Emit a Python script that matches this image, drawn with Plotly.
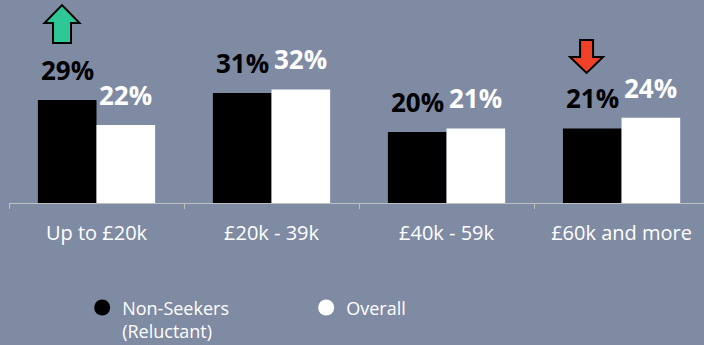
import plotly.graph_objects as go

categories = ["Up to £20k", "£20k - 39k", "£40k - 59k", "£60k and more"]
non_seekers = [29, 31, 20, 21]
overall = [22, 32, 21, 24]
series_names = ["Non-Seekers<br>(Reluctant)", "Overall"]

BG = "#7F8AA3"
FONT = "Open Sans"

W, H = 704, 345
ML, MR, MT, MB = 9, 0, 0, 142
X_RANGE = [-0.5, 3.471]
Y_RANGE = [0, 57.2]
PX_X = (W - ML - MR) / (X_RANGE[1] - X_RANGE[0])   # pixels per category
PX_Y = (H - MT - MB) / (Y_RANGE[1] - Y_RANGE[0])   # pixels per percentage point

fig = go.Figure()
fig.add_trace(go.Bar(x=categories, y=non_seekers, marker=dict(color="black", line_width=0),
                     showlegend=False, hoverinfo="skip"))
fig.add_trace(go.Bar(x=categories, y=overall, marker=dict(color="white", line_width=0),
                     showlegend=False, hoverinfo="skip"))

# legend entries drawn as circles
for name, col in zip(series_names, ["black", "white"]):
    fig.add_trace(go.Scatter(x=[None], y=[None], mode="markers", name=name,
                             marker=dict(symbol="circle", size=17, color=col, line_width=0)))

# value labels above each bar
annotations = []
for i, (a, b) in enumerate(zip(non_seekers, overall)):
    annotations.append(dict(x=i, y=a, xref="x", yref="y", text=f"{a}%", showarrow=False,
                            xshift=-29, yshift=10, yanchor="bottom",
                            font=dict(family=FONT, size=26, color="black", weight="bold")))
    annotations.append(dict(x=i, y=b, xref="x", yref="y", text=f"{b}%", showarrow=False,
                            xshift=29, yshift=10, yanchor="bottom",
                            font=dict(family=FONT, size=26, color="white", weight="bold")))


def arrow_path(cat, value, dx, pts):
    """Polygon given in pixel offsets (x right, y up) from a bar top."""
    coords = [(cat + (dx + px) / PX_X, value + py / PX_Y) for px, py in pts]
    return "M " + " L ".join(f"{x:.4f},{y:.4f}" for x, y in coords) + " Z"


def up_pts(top, head_base, bottom, hw, sw):
    return [(0, top), (hw, head_base), (sw, head_base), (sw, bottom),
            (-sw, bottom), (-sw, head_base), (-hw, head_base)]


def down_pts(top, head_base, tip, hw, sw):
    return [(-sw, top), (sw, top), (sw, head_base), (hw, head_base),
            (0, tip), (-hw, head_base), (-sw, head_base)]


shapes = [
    dict(type="path", xref="x", yref="y",
         path=arrow_path(0, non_seekers[0], -34.5, up_pts(95, 77, 57, 17.5, 9)),
         fillcolor="#2EC896", line=dict(color="black", width=2)),
    dict(type="path", xref="x", yref="y",
         path=arrow_path(3, non_seekers[3], -35, down_pts(88.5, 71.5, 55.5, 16.5, 6.5)),
         fillcolor="#F04128", line=dict(color="black", width=2)),
]

fig.update_layout(
    width=W, height=H,
    margin=dict(l=ML, r=MR, t=MT, b=MB, autoexpand=False),
    paper_bgcolor=BG, plot_bgcolor=BG,
    barmode="group", bargap=0.33, bargroupgap=0,
    font=dict(family=FONT, color="white"),
    xaxis=dict(range=X_RANGE, showline=True, linecolor="#BFBFBF", linewidth=1,
               ticks="outside", tickson="boundaries", ticklen=5, tickcolor="#BFBFBF",
               tickfont=dict(family=FONT, size=20, color="white"), ticklabelstandoff=12,
               showgrid=False, zeroline=False, fixedrange=True),
    yaxis=dict(range=Y_RANGE, visible=False, showgrid=False, zeroline=False),
    legend=dict(orientation="h", x=0.1053, y=-0.425, xanchor="left", yanchor="top",
                entrywidth=179, entrywidthmode="pixels", valign="top", tracegroupgap=0,
                font=dict(family=FONT, size=18, color="white"),
                bgcolor="rgba(0,0,0,0)"),
    annotations=annotations,
    shapes=shapes,
)

fig.write_html("out.html")
